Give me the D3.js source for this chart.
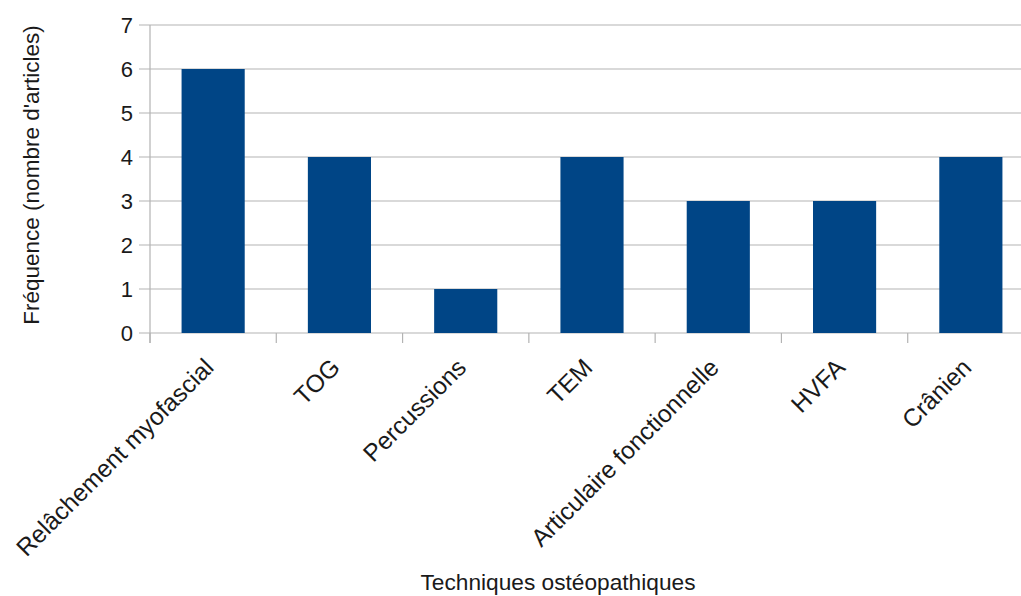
<!DOCTYPE html>
<html>
<head>
<meta charset="utf-8">
<script src="https://cdn.jsdelivr.net/npm/d3@7"></script>
<style>
  html, body { margin: 0; padding: 0; background: #fff; }
  svg { display: block; }
  text { font-family: "Liberation Sans", Arial, sans-serif; fill: #1a1a1a; }
</style>
</head>
<body>
<svg id="chart" width="1021" height="596"></svg>
<script>
// Osteopathic techniques and the number of articles mentioning each
const categories = ["Relâchement myofascial", "TOG", "Percussions", "TEM",
                    "Articulaire fonctionnelle", "HVFA", "Crânien"];
const frequencies = [6, 4, 1, 4, 3, 3, 4];
const yTicks = [0, 1, 2, 3, 4, 5, 6, 7];
const xTitle = "Techniques ostéopathiques";
const yTitle = "Fréquence (nombre d'articles)";

const svg = d3.select("#chart");
const plotLeft = 150, plotRight = 1034, plotTop = 25, plotBottom = 333;

const x = d3.scaleBand().domain(categories).range([plotLeft, plotRight])
  .paddingInner(0.5).paddingOuter(0.25);
const y = d3.scaleLinear().domain([0, 7]).range([plotBottom, plotTop]);

const grey = "#b3b3b3";

// horizontal gridlines with short outer ticks on the left
svg.append("g").selectAll("line").data(yTicks).join("line")
  .attr("x1", plotLeft - 11).attr("x2", plotRight)
  .attr("y1", d => y(d)).attr("y2", d => y(d))
  .attr("stroke", grey).attr("stroke-width", 1.2);

// vertical axis line
svg.append("line").attr("x1", plotLeft).attr("x2", plotLeft)
  .attr("y1", plotTop).attr("y2", plotBottom + 10)
  .attr("stroke", grey).attr("stroke-width", 1.2);

// category boundary ticks below the baseline
const step = x.step();
const bounds = d3.range(categories.length + 1).map(i => plotLeft + i * step);
svg.append("g").selectAll("line").data(bounds).join("line")
  .attr("x1", d => d).attr("x2", d => d)
  .attr("y1", plotBottom).attr("y2", plotBottom + 10)
  .attr("stroke", grey).attr("stroke-width", 1.2);

// bars
svg.append("g").selectAll("rect").data(categories).join("rect")
  .attr("x", d => x(d))
  .attr("width", x.bandwidth())
  .attr("y", (d, i) => y(frequencies[i]))
  .attr("height", (d, i) => y(0) - y(frequencies[i]))
  .attr("fill", "#004586");

// y tick labels
svg.append("g").selectAll("text").data(yTicks).join("text")
  .attr("x", plotLeft - 17).attr("y", d => y(d))
  .attr("dy", "0.36em")
  .attr("text-anchor", "end")
  .style("font-size", "22px")
  .text(d => d);

// rotated category labels
svg.append("g").selectAll("text").data(categories).join("text")
  .attr("transform", d => `translate(${x(d) + x.bandwidth() / 2 + 2},${plotBottom + 36}) rotate(-45)`)
  .attr("text-anchor", "end")
  .style("font-size", "24.5px")
  .text(d => d);

// axis titles
svg.append("text")
  .attr("x", 558).attr("y", 590)
  .attr("text-anchor", "middle")
  .style("font-size", "22.7px")
  .text(xTitle);

svg.append("text")
  .attr("transform", "translate(39,175) rotate(-90)")
  .attr("text-anchor", "middle")
  .style("font-size", "22.5px")
  .text(yTitle);
</script>
</body>
</html>
